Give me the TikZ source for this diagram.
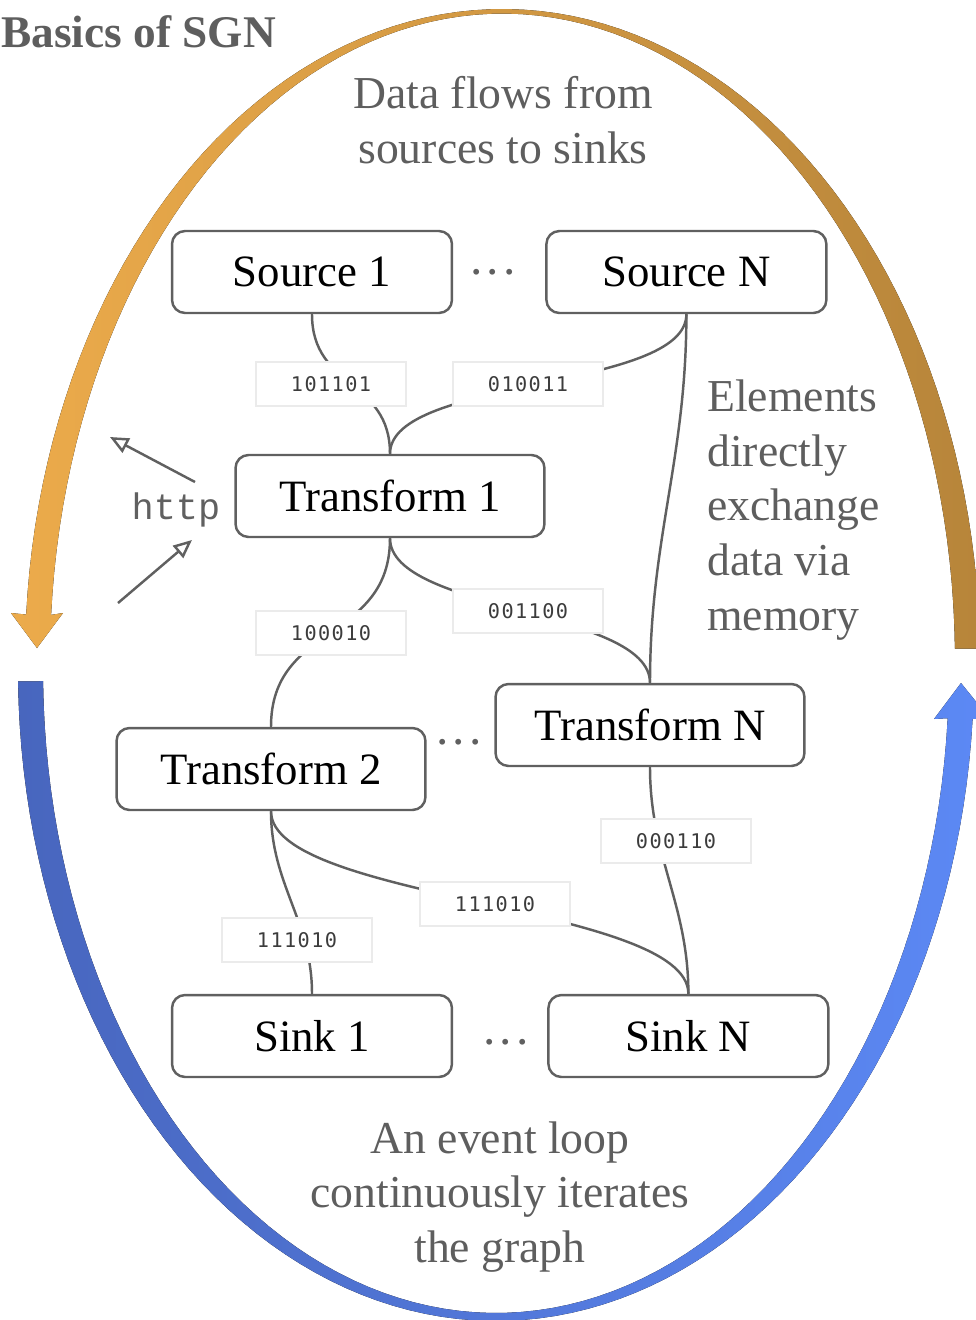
\documentclass[tikz,border=0pt]{standalone}
\usepackage{fontspec}
\setmainfont{Liberation Serif}
\newfontfamily\bitsfamily[LetterSpace=7]{DejaVu Sans Mono}
\newfontfamily\webfamily{Liberation Mono}
\usepackage{xcolor}
\usetikzlibrary{positioning, arrows.meta}

\definecolor{sgnorange}{RGB}{236,171,75}
\definecolor{sgnbrown}{RGB}{183,133,58}
\definecolor{sgnblue}{RGB}{72,102,190}
\definecolor{sgnsky}{RGB}{92,137,245}
\definecolor{linegray}{RGB}{96,96,96}
\definecolor{notegray}{RGB}{94,94,94}
\definecolor{bitsedge}{RGB}{235,235,235}
\definecolor{bitstext}{RGB}{60,60,60}

\begin{document}
\begin{tikzpicture}[x=0.02cm, y=-0.02cm, node distance=1.84cm,
    elem node/.style={draw=linegray, line width=1.4pt, rounded corners=0.26cm, fill=white,
        minimum width=5.6cm, minimum height=1.64cm, inner sep=0pt,
        font=\fontsize{25.5}{30}\selectfont},
    bits node/.style={draw=bitsedge, line width=1.1pt, fill=white, text=bitstext,
        minimum width=3cm, minimum height=0.88cm, inner sep=0pt,
        font=\bitsfamily\fontsize{11.5}{14}\selectfont},
    note node/.style={text=notegray, inner sep=0pt,
        font=\fontsize{26}{31.2}\selectfont},
    dots node/.style={text=linegray, inner sep=0pt, font=\fontsize{28}{28}\selectfont},
    link/.style={draw=linegray, line width=1.4pt},
    web arrow/.style={draw=linegray, line width=1.4pt, -{Triangle[open, length=0.37cm, width=0.32cm]}}]

    \useasboundingbox (0,0) rectangle (976,1320);

    % event loop ring
    \fill[left color=sgnorange, right color=sgnbrown]
        plot[domain=1:176, samples=90] ({502.5+477.5*cos(\x)}, {660-651*sin(\x)})
        -- (11,613) -- (37,648) -- (63,613)
        -- plot[domain=176:1, samples=90] ({502.5+452.5*cos(\x)}, {660-646.5*sin(\x)}) -- cycle;
    \fill[left color=sgnblue, right color=sgnsky]
        plot[domain=181:355.7, samples=90] ({496+478*cos(\x)}, {670-651*sin(\x)})
        -- (990,719) -- (961,683) -- (934,719)
        -- plot[domain=355.7:181, samples=90] ({496+453*cos(\x)}, {670-643*sin(\x)}) -- cycle;

    % notes
    \node[note node, font=\bfseries\fontsize{25.8}{30}\selectfont, anchor=base west] (title) at (1,47) {Basics of SGN};
    \node[note node, align=center] (flow) at (503,120) {Data flows from\\sources to sinks};
    \node[note node, align=left, anchor=west] (memo) at (707,510) {Elements\\directly\\exchange\\data via\\memory};
    \node[note node, align=center] (loop) at (500,1197) {An event loop\\continuously iterates\\the graph};

    % elements
    \node[elem node] (s1) at (312,272) {Source 1};
    \node[elem node] (sN) [right=of s1] {Source N};
    \node[elem node, minimum width=6.18cm] (t1) at (390,496) {Transform 1};
    \node[elem node, minimum width=6.18cm] (t2) at (271,769) {Transform 2};
    \node[elem node, minimum width=6.18cm] (tN) at (650,725) {Transform N};
    \node[elem node] (k1) at (312,1036) {Sink 1};
    \node[elem node] (kN) [right=1.88cm of k1] {Sink N};

    \node[dots node] (sdots) at (493,279) {\textperiodcentered\textperiodcentered\textperiodcentered};
    \node[dots node] (tdots) at (459,749) {\textperiodcentered\textperiodcentered\textperiodcentered};
    \node[dots node] (kdots) at (506,1049) {\textperiodcentered\textperiodcentered\textperiodcentered};

    % http in and out
    \node[text=linegray, inner sep=0pt, font=\webfamily\fontsize{21}{24}\selectfont] (http) at (176,510) {http};
    \coordinate (outfrom) at (195,482);
    \coordinate (outto) at (110,437);
    \coordinate (infrom) at (118,603);
    \coordinate (into) at (192,540);
    \draw[web arrow] (outfrom) -- (outto);
    \draw[web arrow] (infrom) -- (into);

    \path[link]
        (s1.south) edge[out=-90, in=90, looseness=1.2] (t1.north)
        (sN.south) edge[out=-90, in=90, looseness=0.6] (t1.north)
        (sN.south) edge[out=-90, in=90] (tN.north)
        (t1.south) edge[out=-90, in=90, looseness=1.2] (t2.north)
        (t1.south) edge[out=-90, in=90, looseness=0.63] (tN.north)
        (t2.south) edge[out=-90, in=90] (k1.north)
        (t2.south) edge[out=-90, in=90, looseness=0.5] (kN.north)
        (tN.south) edge[out=-90, in=90] (kN.north);

    % buffers
    \node[bits node] (b1) at (331,384) {101101};
    \node[bits node] (b2) at (528,384) {010011};
    \node[bits node] (b3) at (331,633) {100010};
    \node[bits node] (b4) at (528,611) {001100};
    \node[bits node] (b5) at (676,841) {000110};
    \node[bits node] (b6) at (495,904) {111010};
    \node[bits node] (b7) at (297,940) {111010};
\end{tikzpicture}
\end{document}
